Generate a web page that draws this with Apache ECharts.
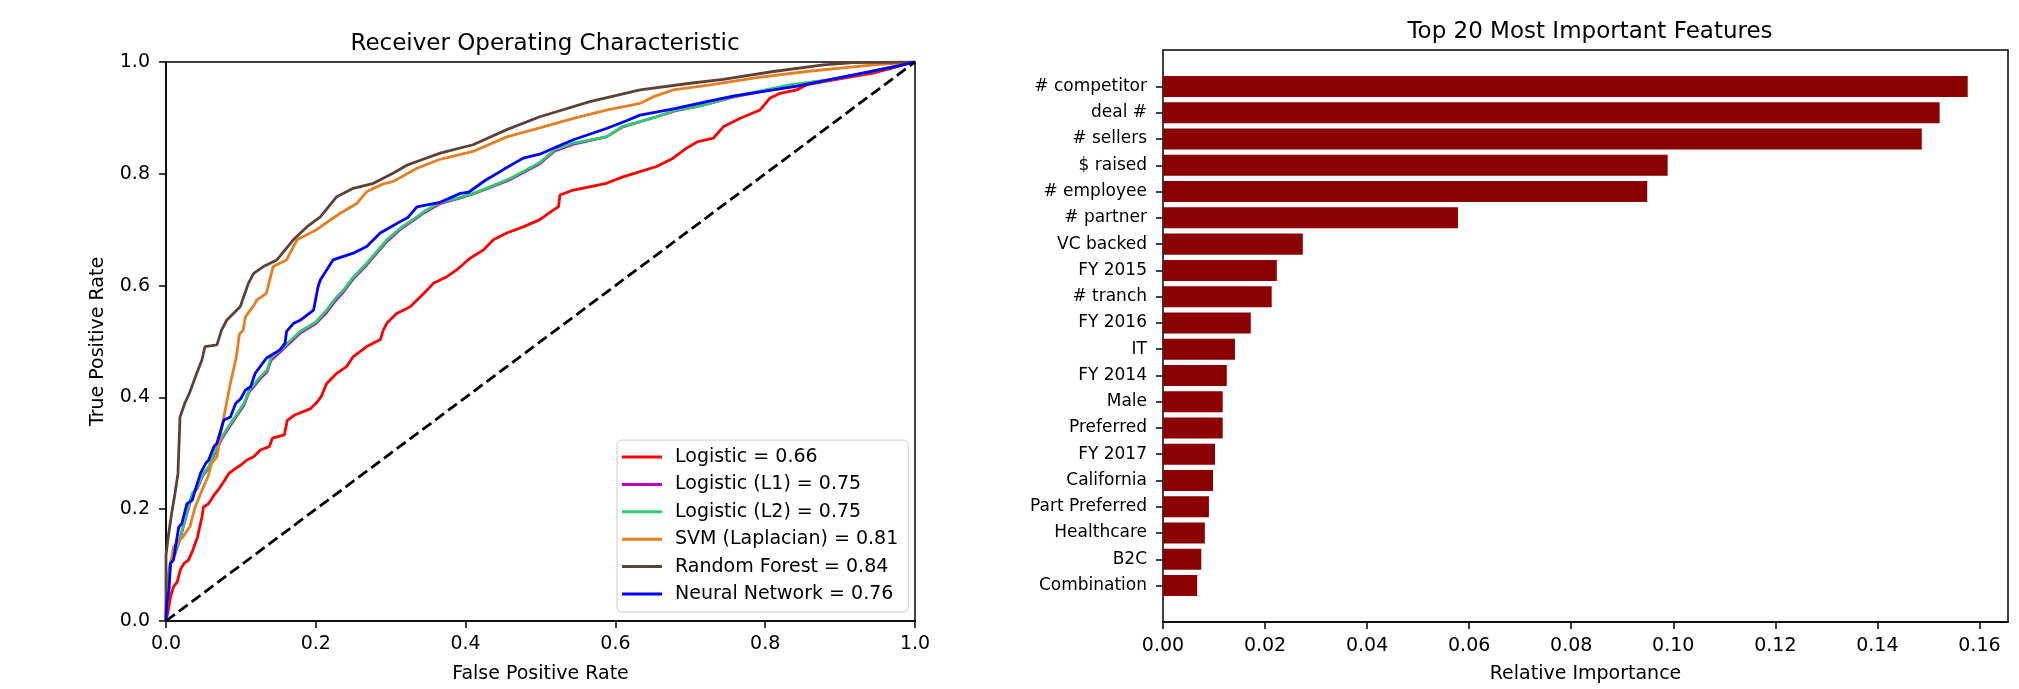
<!DOCTYPE html>
<html>
<head>
<meta charset="utf-8">
<title>ROC curves and feature importance</title>
<script src="https://cdn.jsdelivr.net/npm/echarts@6/dist/echarts.min.js"></script>
<style>
  html, body { margin: 0; padding: 0; background: #fff; }
  #main { width: 2019px; height: 689px; }
</style>
</head>
<body>
<div id="main"></div>
<script>
// ROC points: [false positive rate, true positive rate]
const rocLogistic = [[0,0],[0.003,0.019],[0.006,0.043],[0.010,0.061],[0.015,0.07],[0.019,0.091],[0.024,0.103],[0.030,0.109],[0.035,0.124],[0.042,0.15],[0.048,0.186],[0.050,0.204],[0.057,0.21],[0.064,0.225],[0.071,0.237],[0.077,0.249],[0.084,0.264],[0.093,0.273],[0.100,0.279],[0.108,0.288],[0.117,0.294],[0.126,0.306],[0.138,0.312],[0.142,0.327],[0.158,0.333],[0.162,0.359],[0.171,0.368],[0.182,0.374],[0.193,0.38],[0.200,0.389],[0.207,0.401],[0.2145,0.425],[0.228,0.443],[0.241,0.455],[0.250,0.473],[0.268,0.491],[0.281,0.5],[0.286,0.503],[0.290,0.52],[0.295,0.533],[0.308,0.55],[0.326,0.562],[0.344,0.586],[0.357,0.604],[0.375,0.616],[0.388,0.628],[0.406,0.649],[0.424,0.664],[0.437,0.682],[0.455,0.694],[0.477,0.705],[0.499,0.718],[0.517,0.735],[0.524,0.741],[0.526,0.762],[0.544,0.771],[0.588,0.783],[0.611,0.795],[0.633,0.804],[0.655,0.813],[0.677,0.828],[0.695,0.846],[0.709,0.857],[0.731,0.864],[0.744,0.884],[0.766,0.899],[0.793,0.914],[0.806,0.935],[0.820,0.944],[0.842,0.95],[0.855,0.959],[0.878,0.965],[0.944,0.98],[1,1]]
const rocL1 = [[0,0],[0.001,0.058],[0.006,0.104],[0.0125,0.122],[0.019,0.148],[0.027,0.188],[0.035,0.226],[0.042,0.238],[0.050,0.262],[0.057,0.274],[0.066,0.303],[0.075,0.327],[0.086,0.350],[0.095,0.368],[0.104,0.386],[0.111,0.41],[0.117,0.419],[0.126,0.434],[0.135,0.446],[0.140,0.466],[0.157,0.487],[0.179,0.515],[0.200,0.532],[0.2145,0.552],[0.225,0.571],[0.237,0.589],[0.250,0.612],[0.268,0.637],[0.295,0.679],[0.315,0.703],[0.335,0.721],[0.344,0.73],[0.366,0.747],[0.391,0.756],[0.410,0.764],[0.426,0.772],[0.460,0.79],[0.499,0.818],[0.519,0.841],[0.544,0.853],[0.588,0.866],[0.610,0.884],[0.655,0.902],[0.681,0.913],[0.715,0.922],[0.757,0.937],[0.800,0.949],[0.833,0.958],[0.885,0.968],[0.928,0.979],[1,1]]
const rocL2 = [[0,0],[0.001,0.061],[0.006,0.106],[0.0125,0.124],[0.019,0.15],[0.027,0.19],[0.035,0.228],[0.042,0.24],[0.050,0.264],[0.057,0.276],[0.066,0.306],[0.075,0.33],[0.086,0.353],[0.095,0.371],[0.104,0.389],[0.111,0.413],[0.117,0.422],[0.126,0.437],[0.135,0.449],[0.140,0.47],[0.157,0.49],[0.179,0.518],[0.200,0.535],[0.2145,0.556],[0.225,0.575],[0.237,0.592],[0.250,0.615],[0.268,0.64],[0.295,0.682],[0.315,0.705],[0.335,0.723],[0.344,0.732],[0.366,0.749],[0.391,0.757],[0.410,0.765],[0.426,0.773],[0.460,0.792],[0.499,0.82],[0.519,0.843],[0.544,0.855],[0.588,0.866],[0.610,0.885],[0.655,0.902],[0.681,0.914],[0.715,0.922],[0.757,0.938],[0.800,0.95],[0.833,0.959],[0.885,0.968],[0.928,0.979],[1,1]]
const rocSvm = [[0,0],[0.002,0.06],[0.006,0.1],[0.010,0.133],[0.023,0.151],[0.032,0.169],[0.039,0.204],[0.050,0.24],[0.056,0.258],[0.061,0.282],[0.068,0.294],[0.074,0.342],[0.079,0.377],[0.085,0.419],[0.094,0.473],[0.098,0.513],[0.103,0.52],[0.106,0.544],[0.119,0.568],[0.121,0.574],[0.134,0.586],[0.143,0.634],[0.161,0.646],[0.175,0.682],[0.201,0.70],[0.232,0.729],[0.255,0.747],[0.268,0.768],[0.290,0.782],[0.303,0.786],[0.335,0.81],[0.366,0.826],[0.410,0.84],[0.455,0.866],[0.499,0.882],[0.544,0.899],[0.588,0.914],[0.633,0.926],[0.651,0.938],[0.677,0.95],[0.722,0.958],[0.789,0.972],[0.855,0.983],[0.944,0.995],[1,1]]
const rocForest = [[0,0],[0,0.118],[0.003,0.151],[0.0076,0.193],[0.012,0.228],[0.016,0.264],[0.0187,0.365],[0.025,0.389],[0.032,0.41],[0.041,0.443],[0.048,0.467],[0.052,0.491],[0.068,0.494],[0.074,0.52],[0.081,0.538],[0.099,0.562],[0.110,0.604],[0.117,0.622],[0.130,0.634],[0.148,0.646],[0.170,0.682],[0.188,0.705],[0.206,0.723],[0.228,0.759],[0.250,0.774],[0.277,0.783],[0.303,0.801],[0.321,0.815],[0.335,0.822],[0.366,0.837],[0.410,0.852],[0.455,0.879],[0.499,0.902],[0.566,0.929],[0.633,0.95],[0.700,0.962],[0.744,0.969],[0.811,0.983],[0.878,0.995],[0.918,0.999],[1,1]]
const rocNeural = [[0,0],[0.001,0.031],[0.004,0.055],[0.006,0.103],[0.010,0.109],[0.017,0.168],[0.021,0.174],[0.028,0.21],[0.035,0.216],[0.039,0.234],[0.046,0.264],[0.053,0.282],[0.057,0.288],[0.064,0.312],[0.068,0.318],[0.077,0.359],[0.086,0.365],[0.093,0.389],[0.100,0.398],[0.106,0.413],[0.113,0.419],[0.119,0.443],[0.134,0.47],[0.152,0.485],[0.159,0.497],[0.161,0.518],[0.170,0.532],[0.179,0.538],[0.197,0.556],[0.203,0.598],[0.206,0.61],[0.223,0.646],[0.250,0.658],[0.268,0.67],[0.286,0.694],[0.312,0.714],[0.323,0.722],[0.335,0.741],[0.366,0.749],[0.393,0.765],[0.404,0.767],[0.426,0.788],[0.451,0.808],[0.477,0.828],[0.499,0.835],[0.528,0.852],[0.544,0.861],[0.588,0.881],[0.613,0.894],[0.633,0.905],[0.681,0.917],[0.722,0.929],[0.757,0.939],[0.811,0.95],[0.843,0.957],[0.900,0.972],[0.970,0.991],[1,1]]
const chanceLine = [[0,0],[1,1]]

const rocNames = ['Logistic = 0.66', 'Logistic (L1) = 0.75', 'Logistic (L2) = 0.75', 'SVM (Laplacian) = 0.81', 'Random Forest = 0.84', 'Neural Network = 0.76']
const rocColors = ['#ff0000', '#bf00bf', '#2ecc71', '#e67e22', '#5d4037', '#0000ff']
const rocData = [rocLogistic, rocL1, rocL2, rocSvm, rocForest, rocNeural]

// feature importances, top to bottom
const features = ['# competitor', 'deal #', '# sellers', '$ raised', '# employee', '# partner', 'VC backed', 'FY 2015', '# tranch', 'FY 2016', 'IT', 'FY 2014', 'Male', 'Preferred', 'FY 2017', 'California', 'Part Preferred', 'Healthcare', 'B2C', 'Combination']
const importance = [0.1577, 0.1522, 0.1487, 0.0989, 0.0949, 0.0578, 0.0274, 0.0223, 0.0213, 0.0172, 0.0141, 0.0125, 0.0117, 0.0117, 0.0102, 0.0098, 0.0090, 0.0082, 0.0075, 0.0067]
const importanceTicks = [0, 0.02, 0.04, 0.06, 0.08, 0.10, 0.12, 0.14, 0.16]

const font = 'DejaVu Sans'
const black = '#000'

const chart = echarts.init(document.getElementById('main'))

const rocSeries = rocData.map((d, i) => ({
  name: rocNames[i],
  type: 'line',
  xAxisIndex: 0,
  yAxisIndex: 0,
  data: d,
  symbol: 'none',
  showSymbol: false,
  lineStyle: { color: rocColors[i], width: 2.8 },
  itemStyle: { color: rocColors[i] },
  z: 3 + i
}))

const option = {
  animation: false,
  backgroundColor: '#fff',
  textStyle: { fontFamily: font },
  title: [
    {
      text: 'Receiver Operating Characteristic',
      left: 540, top: 28, textAlign: 'center',
      textStyle: { fontFamily: font, fontSize: 23, fontWeight: 'normal', color: black }
    },
    {
      text: 'Top 20 Most Important Features',
      left: 1585, top: 16, textAlign: 'center',
      textStyle: { fontFamily: font, fontSize: 23, fontWeight: 'normal', color: black }
    }
  ],
  legend: {
    data: rocNames,
    orient: 'vertical',
    left: 617, top: 440,
    icon: 'rect',
    itemWidth: 40, itemHeight: 3,
    itemGap: 7.4,
    padding: [7, 10, 8, 5],
    backgroundColor: 'rgba(255,255,255,0.8)',
    borderColor: '#cccccc', borderWidth: 1, borderRadius: 5,
    textStyle: { fontFamily: font, fontSize: 19, color: black, lineHeight: 20, padding: [0, 0, 0, 8] }
  },
  grid: [
    { left: 166, top: 62, width: 749, height: 559, show: true, borderColor: black, borderWidth: 1.5 },
    { left: 1163, top: 50, width: 845, height: 572, show: true, borderColor: black, borderWidth: 1.5 },
    { left: 1163, top: 73.4, width: 845, height: 525.3 }
  ],
  xAxis: [
    {
      gridIndex: 0, type: 'value', min: 0, max: 1, interval: 0.2,
      name: 'False Positive Rate', nameLocation: 'middle', nameGap: 44,
      nameTextStyle: { fontFamily: font, fontSize: 19, color: black },
      axisLine: { show: true, lineStyle: { color: black, width: 1.5 } },
      axisTick: { show: true, length: 7, lineStyle: { color: black, width: 1.5 } },
      axisLabel: { fontFamily: font, fontSize: 19, color: black, margin: 14, formatter: v => v.toFixed(1) },
      splitLine: { show: false }
    },
    {
      gridIndex: 1, type: 'value', min: 0, max: 0.1656,
      name: 'Relative Importance', nameLocation: 'middle', nameGap: 43,
      nameTextStyle: { fontFamily: font, fontSize: 19, color: black },
      axisLine: { show: true, lineStyle: { color: black, width: 1.5 } },
      axisTick: { show: true, length: 7, customValues: importanceTicks, lineStyle: { color: black, width: 1.5 } },
      axisLabel: { fontFamily: font, fontSize: 19, color: black, margin: 15, customValues: importanceTicks, formatter: v => v.toFixed(2) },
      splitLine: { show: false }
    },
    {
      gridIndex: 2, type: 'value', min: 0, max: 0.1656, show: false
    }
  ],
  yAxis: [
    {
      gridIndex: 0, type: 'value', min: 0, max: 1, interval: 0.2,
      name: 'True Positive Rate', nameLocation: 'middle', nameGap: 58, nameRotate: 90,
      nameTextStyle: { fontFamily: font, fontSize: 19, color: black },
      axisLine: { show: true, lineStyle: { color: black, width: 1.5 } },
      axisTick: { show: true, length: 7, lineStyle: { color: black, width: 1.5 } },
      axisLabel: { fontFamily: font, fontSize: 19, color: black, margin: 16, formatter: v => v.toFixed(1) },
      splitLine: { show: false }
    },
    {
      gridIndex: 1, type: 'value', min: 0, max: 1, show: false
    },
    {
      gridIndex: 2, type: 'category', data: features, inverse: true,
      axisLine: { show: false },
      axisTick: { show: true, alignWithLabel: true, length: 7, lineStyle: { color: black, width: 1.5 } },
      axisLabel: { fontFamily: font, fontSize: 17, color: black, margin: 16 },
      splitLine: { show: false }
    }
  ],
  series: [
    ...rocSeries,
    {
      name: 'chance',
      type: 'line',
      xAxisIndex: 0,
      yAxisIndex: 0,
      data: chanceLine,
      symbol: 'none',
      lineStyle: { color: black, width: 2.8, type: [11, 5] },
      z: 10
    },
    {
      name: 'importance',
      type: 'bar',
      xAxisIndex: 2,
      yAxisIndex: 2,
      data: importance,
      barWidth: '80%',
      itemStyle: { color: '#8b0000' }
    }
  ]
}

chart.setOption(option)
</script>
</body>
</html>
